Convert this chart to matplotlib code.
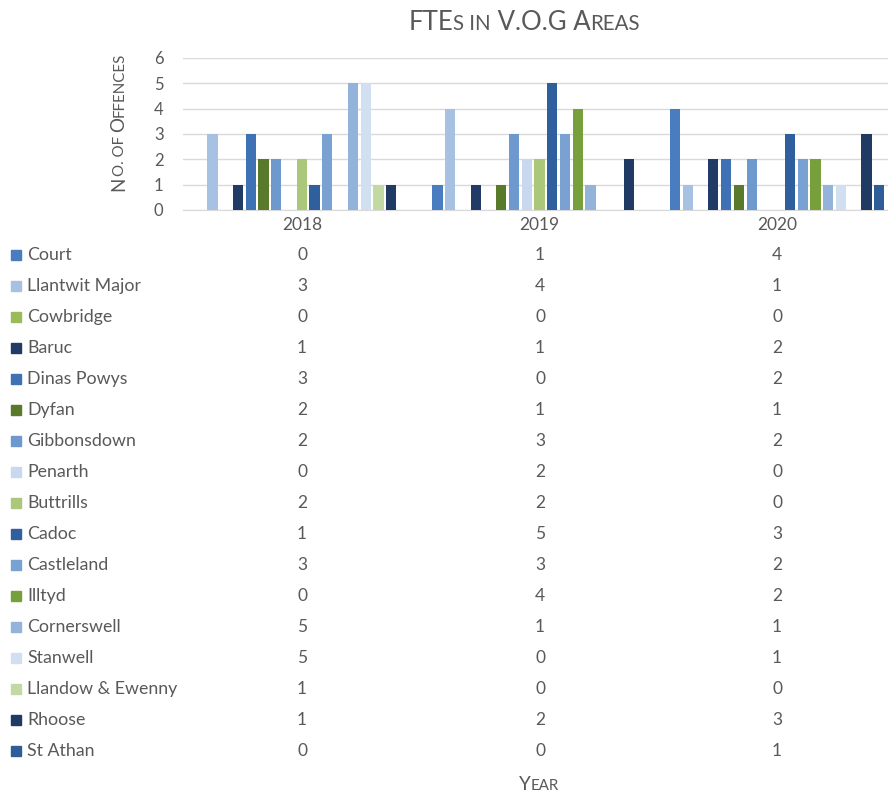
import matplotlib
matplotlib.use("Agg")
import matplotlib.pyplot as plt
from matplotlib.patches import Rectangle
from matplotlib.transforms import IdentityTransform
import numpy as np

plt.rcParams['font.family'] = ['Lato', 'DejaVu Sans']

# data
areas = ["Court", "Llantwit Major", "Cowbridge", "Baruc", "Dinas Powys", "Dyfan",
         "Gibbonsdown", "Penarth", "Buttrills", "Cadoc", "Castleland", "Illtyd",
         "Cornerswell", "Stanwell", "Llandow & Ewenny", "Rhoose", "St Athan"]
years = ["2018", "2019", "2020"]
counts_2018 = [0, 3, 0, 1, 3, 2, 2, 0, 2, 1, 3, 0, 5, 5, 1, 1, 0]
counts_2019 = [1, 4, 0, 1, 0, 1, 3, 2, 2, 5, 3, 4, 1, 0, 0, 2, 0]
counts_2020 = [4, 1, 0, 2, 2, 1, 2, 0, 0, 3, 2, 2, 1, 1, 0, 3, 1]

colors = ["#4A7DBF", "#A7C1E2", "#9BBB59", "#203C66", "#3F72B5", "#5A7A2B",
          "#6E99CF", "#C8D8EE", "#ABC77A", "#2F5F9C", "#79A1D2", "#77A03C",
          "#93B3DB", "#D2DFF1", "#C3D9A3", "#1F3A63", "#2E5D98"]

text_col = "#595959"
W, H = 888, 796

fig = plt.figure(figsize=(W / 100, H / 100), dpi=100)
fig.patch.set_facecolor("white")

# plot area in pixels (image coords): left 183, right 896, top 58, bottom 210
left, right, top, bottom = 183, 896, 58, 210
ax = fig.add_axes([left / W, 1 - bottom / H, (right - left) / W, (bottom - top) / H])

x = np.arange(len(years))
step = 0.0537
bar_w = 0.043
for i, name in enumerate(areas):
    vals = [counts_2018[i], counts_2019[i], counts_2020[i]]
    ax.bar(x + (i - 8) * step, vals, width=bar_w, color=colors[i], zorder=3)

ax.set_xlim(-0.5, 2.5)
ax.set_ylim(0, 6)
ax.set_yticks(range(7))
ax.grid(axis="y", color="#D9D9D9", linewidth=1, zorder=0)
for s in ["top", "right", "left"]:
    ax.spines[s].set_visible(False)
ax.spines["bottom"].set_color("#D9D9D9")
ax.tick_params(length=0)
ax.tick_params(axis="y", labelsize=12, labelcolor=text_col, pad=14)
ax.set_xticks(x)
ax.set_xticklabels(years)
ax.tick_params(axis="x", labelsize=12.5, labelcolor=text_col, pad=5)

renderer = fig.canvas.get_renderer()


def small_caps(parts, cx, cy, size, rotation=0):
    # parts: list of (text, small?) ; cx, cy: centre / baseline in image pixels
    texts = []
    for t, small in parts:
        txt = fig.text(0, 0, t.upper(), fontsize=size * (0.8 if small else 1.0),
                       color=text_col, ha="left", va="baseline",
                       rotation=rotation, rotation_mode="anchor",
                       transform=IdentityTransform())
        texts.append(txt)
    sizes = []
    for txt in texts:
        bb = txt.get_window_extent(renderer)
        sizes.append(bb.width if rotation == 0 else bb.height)
    total = sum(sizes)
    pos = -total / 2
    for txt, sz in zip(texts, sizes):
        if rotation == 0:
            txt.set_position((cx + pos, H - cy))
        else:
            txt.set_position((cx, H - cy + pos))
        pos += sz


small_caps([("FTE", False), ("s in", True), (" V.O.G A", False), ("reas", True)],
           524, 30, 18.5)
small_caps([("N", False), ("o. of ", True), ("O", False), ("ffences", True)],
           124, 122, 13.5, rotation=90)
small_caps([("Y", False), ("ear", True)], 539, 790, 13.5)

# data table below the chart
row0, row_step = 255, 31
col_x = [302, 540, 777]
for i, name in enumerate(areas):
    y = H - (row0 + i * row_step)
    fig.add_artist(Rectangle((11, y - 5), 10, 10, color=colors[i],
                             transform=IdentityTransform()))
    fig.text(27 / W, y / H, name, fontsize=12.8, color=text_col,
             ha="left", va="center")
    vals = [counts_2018[i], counts_2019[i], counts_2020[i]]
    for cxp, v in zip(col_x, vals):
        fig.text(cxp / W, y / H, str(v), fontsize=12.5, color=text_col,
                 ha="center", va="center")

fig.savefig("out.png", dpi=100)
